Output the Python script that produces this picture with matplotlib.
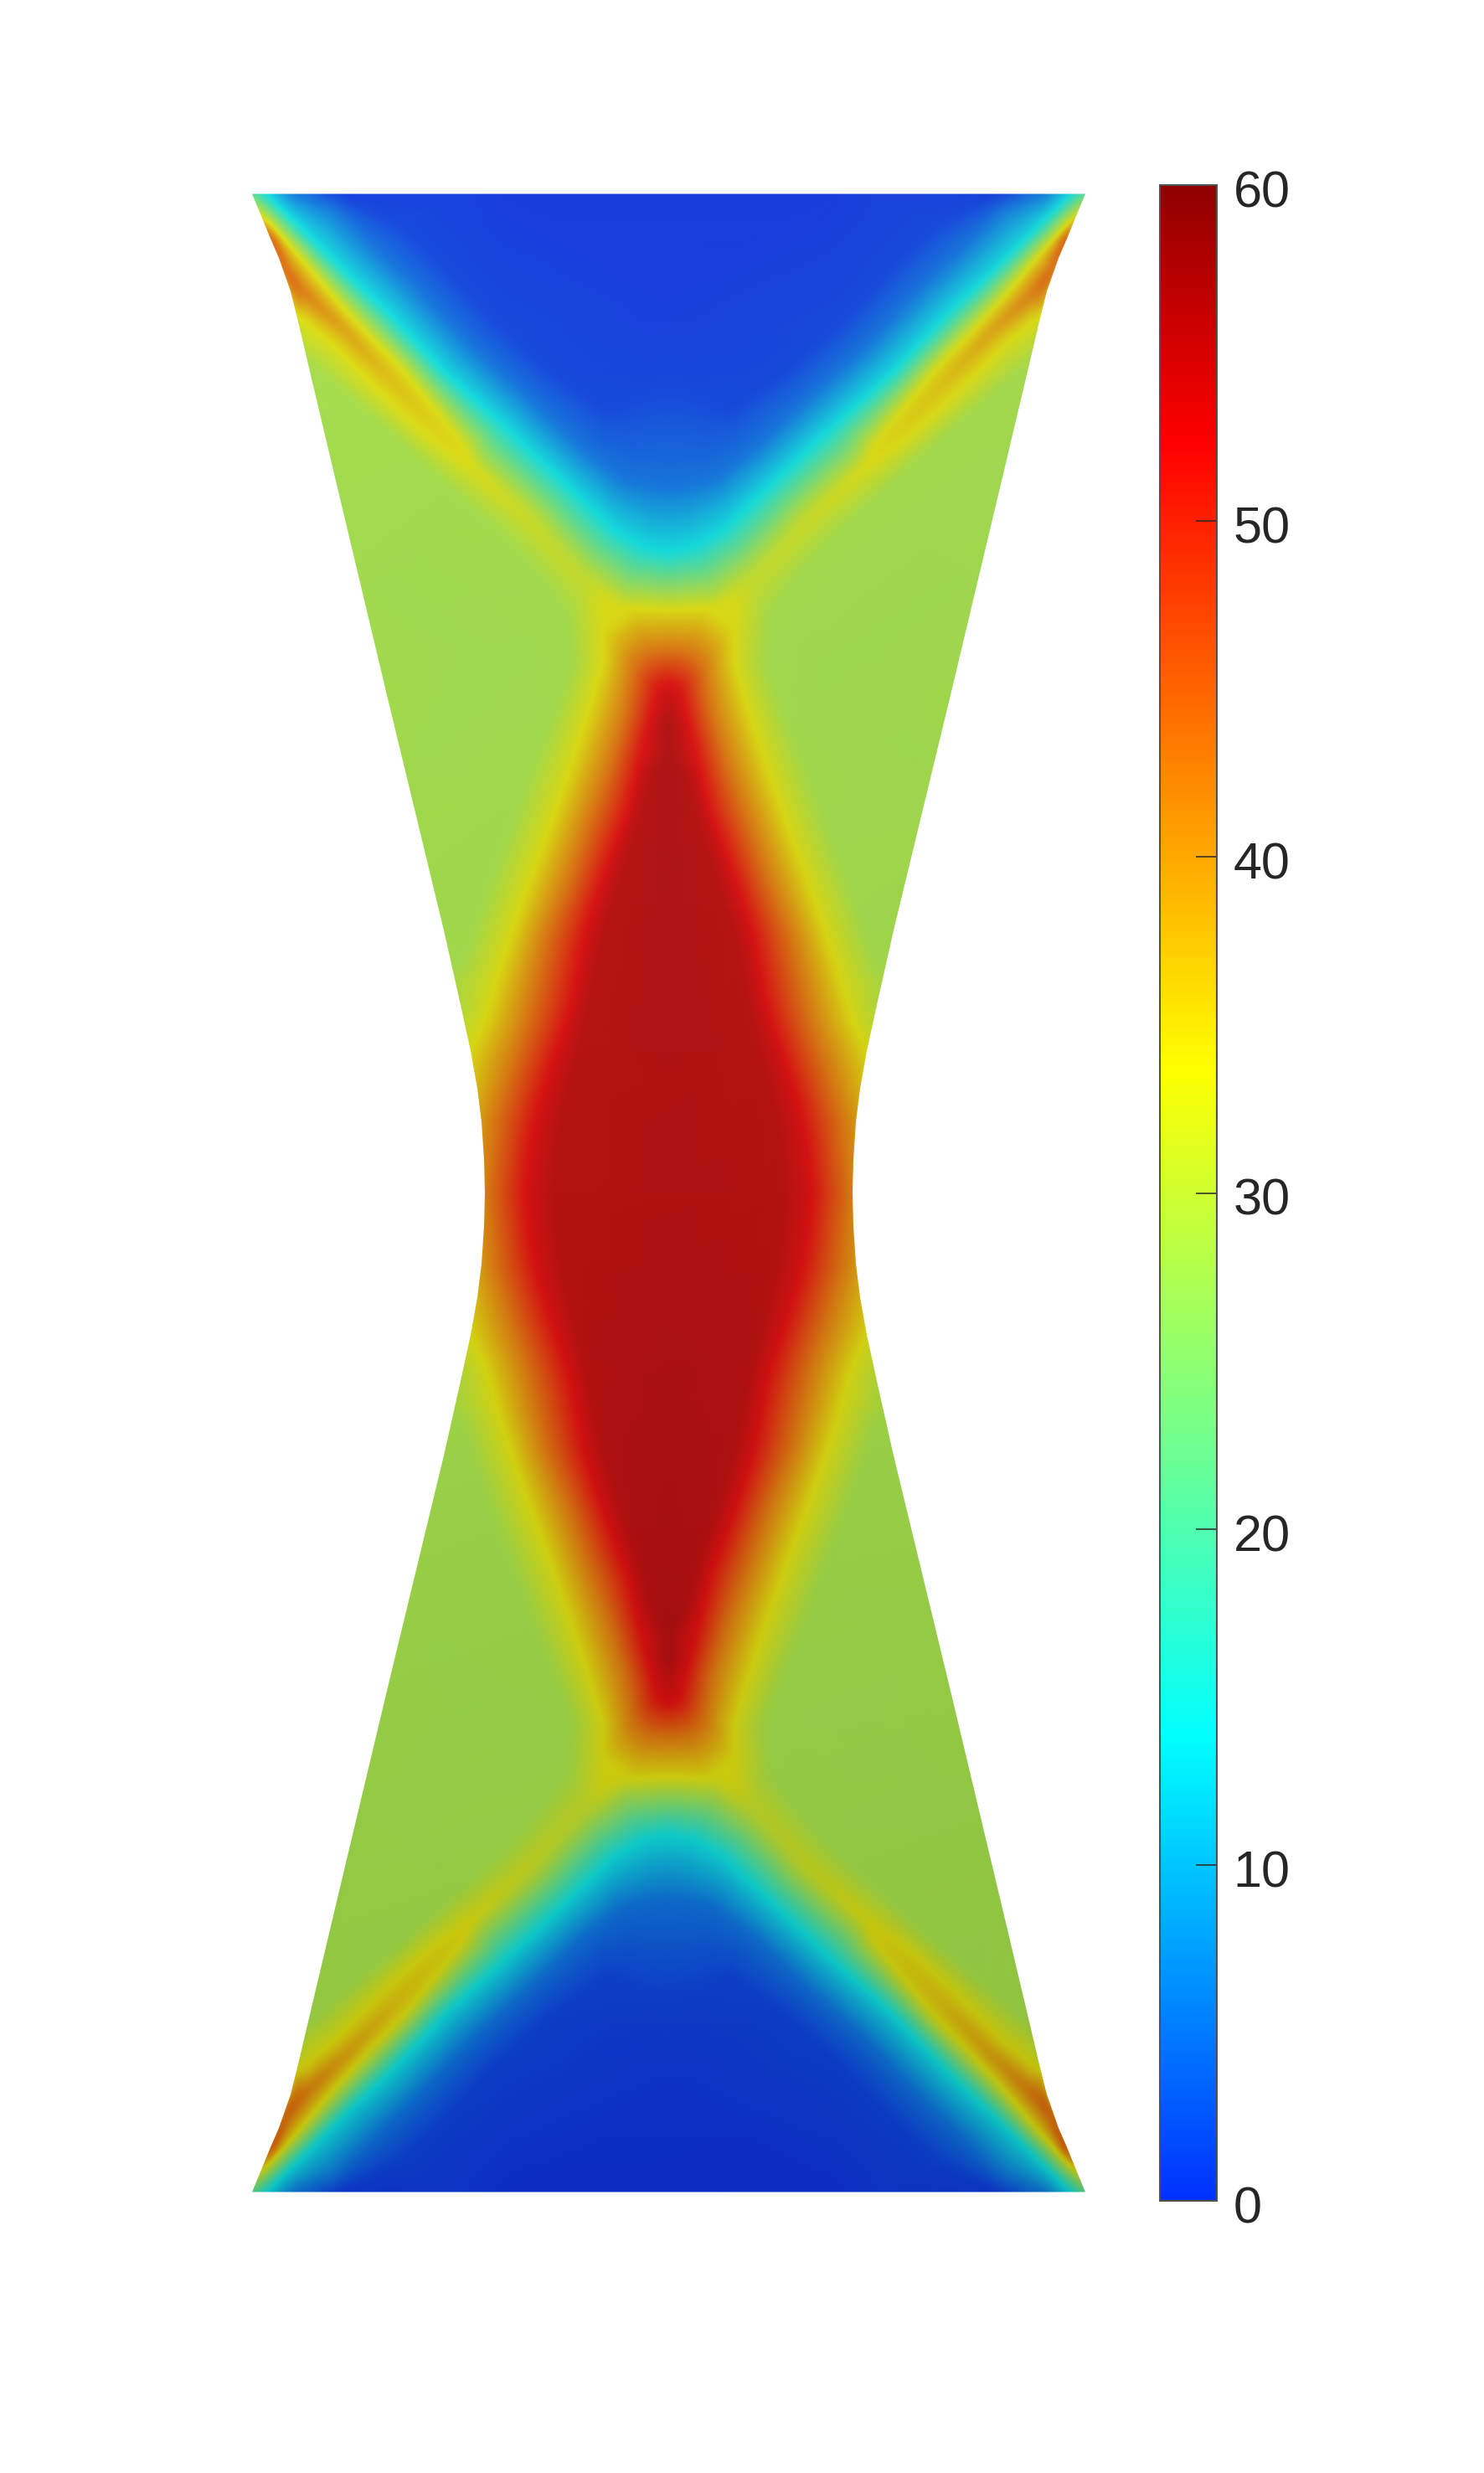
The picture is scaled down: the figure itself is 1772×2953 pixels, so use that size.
# -*- coding: utf-8 -*-
import numpy as np
import matplotlib
matplotlib.use('Agg')
import matplotlib.pyplot as plt
from matplotlib.patches import Polygon
from matplotlib.path import Path
from matplotlib.colors import LinearSegmentedColormap, Normalize
from matplotlib.cm import ScalarMappable
from matplotlib.tri import Triangulation, LinearTriInterpolator
from matplotlib.transforms import ScaledTranslation

# colour bar
vmin, vmax = 0, 60
bar_ticks = [0, 10, 20, 30, 40, 50, 60]
cmap_values = [0, 13.8, 33.7, 52.3, 60]
cmap_colors = [(0, 48, 255), (0, 255, 255), (255, 255, 0), (255, 0, 0), (143, 0, 0)]

# mirror lines of the specimen, pixels of the picture
mid_x = 798.5
mid_y = 1424.5

# left edge of the top left quarter, with the value read along it
edge_x = [301, 312, 323, 333, 347, 357, 368, 400, 462, 530, 550, 562, 570, 575, 578, 579]
edge_y = [231.5, 258, 285, 308, 348, 388, 435, 570, 830, 1111, 1200, 1255, 1300, 1340, 1385, 1424.5]
edge_v = [21, 33.7, 49, 47, 42, 33, 28.5, 28, 28, 28, 29.5, 33.7, 37, 40, 41.5, 42]

# top edge
top_x = [420, 600, 798.5]
top_y = [231.5, 231.5, 231.5]
top_v = [0.2, 0, 0]

# middle column
centre_y = [350, 840, 870, 900, 930, 960, 1000, 1100, 1200, 1300, 1424.5]
centre_v = [0.2, 54.5, 56.5, 56.3, 56.1, 56, 55.9, 55.8, 55.7, 55.6, 55.6]

# lines of one value
v1_x = [395, 476, 522, 592, 659, 726, 762, 798.5]
v1_y = [231.5, 268, 311, 385, 445, 490, 472, 465]
v5_x = [352, 400, 448, 494, 564, 631, 698, 745, 775, 798.5]
v5_y = [231.5, 250, 297, 340, 414, 474, 537, 572, 578, 580]
cyan_x = [317, 367, 417, 463, 533, 600, 667, 733, 767, 798.5]
cyan_y = [231.5, 281, 330, 373, 447, 507, 570, 633, 653, 660]
inner_x = [320, 360, 403, 443, 480, 527, 555]
inner_y = [265, 309, 360, 403, 440, 497, 533]
outer_x = [352, 400, 433, 467, 507, 555]
outer_y = [372, 413, 447, 480, 517, 553]
ridge_x = [720, 720, 703, 680, 657, 637, 617, 597, 580, 560]
ridge_y = [733, 793, 850, 920, 987, 1040, 1097, 1157, 1217, 1260]
roof_x = [720, 760, 798.5]
roof_y = [723, 726, 728]
green_x = [368, 400, 467, 533, 600, 650, 676, 682, 660, 632, 608, 588, 568, 550]
green_y = [435, 463, 520, 580, 642, 695, 735, 793, 850, 920, 987, 1040, 1097, 1150]
orange_x = [798.5, 775, 757, 747, 727, 700, 680, 653, 630, 613, 593, 583]
orange_y = [775, 778, 790, 850, 917, 990, 1050, 1117, 1217, 1267, 1333, 1424.5]
red_x = [798.5, 785, 780, 767, 750, 737, 713, 697, 684, 677, 660, 643, 633, 627]
red_y = [815, 822, 843, 893, 967, 1000, 1067, 1117, 1190, 1217, 1267, 1320, 1367, 1424.5]
core_x = [775, 757, 735, 720, 705, 688, 670, 662]
core_y = [930, 1000, 1067, 1117, 1190, 1267, 1340, 1424.5]

# the two shoulders of the wide yellow band
upper_x = [600, 640, 667, 700]
upper_y = [574, 612, 645, 680]
lower_x = [600, 640, 667, 690]
lower_y = [617, 657, 690, 720]

# crest of the band between the two thin yellow lines, then of the merged band
crest_x = [345, 370, 413, 467, 517, 555, 575, 600, 640, 667, 700]
crest_y = [328, 355, 395, 453, 507, 543, 568, 592, 630, 663, 697]
crest_v = [45, 42.5, 39.5, 36.8, 35, 34, 33.5, 32.8, 32, 31.5, 31.5]

# plain green inside the two side fields
plain_x = [450, 500, 420, 560, 620]
plain_y = [700, 900, 520, 780, 800]
plain_v = [27.8, 27.8, 28, 27.8, 27.8]

# light on the surface, darker towards the bottom
light_y = [231.5, 1424.5, 2617.5]
light_dim = [0.235, 0.24, 0.285]
light_add = [25, 18, 12]

lines = [(edge_x, edge_y, edge_v),
         (v1_x, v1_y, [1.2] * len(v1_x)),
         (v5_x, v5_y, [5] * len(v5_x)),
         (cyan_x, cyan_y, [13.8] * len(cyan_x)),
         (inner_x, inner_y, [33.7] * len(inner_x)),
         (outer_x, outer_y, [33.7] * len(outer_x)),
         (ridge_x, ridge_y, [33.7] * len(ridge_x)),
         (roof_x, roof_y, [33.7] * len(roof_x)),
         (green_x, green_y, [28] * len(green_x)),
         (orange_x, orange_y, [43] * len(orange_x)),
         (red_x, red_y, [52.3] * len(red_x)),
         (core_x, core_y, [55.4] * len(core_x)),
         (upper_x, upper_y, [30] * len(upper_x)),
         (lower_x, lower_y, [30] * len(lower_x)),
         (crest_x, crest_y, crest_v)]
points = [(top_x, top_y, top_v),
          ([mid_x] * len(centre_y), centre_y, centre_v),
          (plain_x, plain_y, plain_v)]

px, py, pv = [], [], []
for x, y, v in lines:
    # the library subdivides each read line so the mesh follows it
    p = Path(np.column_stack([x, y])).interpolated(6).vertices
    w = Path(np.column_stack([v, v])).interpolated(6).vertices[:, 0]
    px.append(p[:, 0])
    py.append(p[:, 1])
    pv.append(w)
for x, y, v in points:
    px.append(np.asarray(x, float))
    py.append(np.asarray(y, float))
    pv.append(np.asarray(v, float))
qx = np.concatenate(px)
qy = np.concatenate(py)
qv = np.concatenate(pv)

# a little margin past the top edge so that the smoothing has values there
on_top = qy == 231.5
qx = np.concatenate([qx, qx[on_top], [281.0]])
qy = np.concatenate([qy, qy[on_top] - 20, [232.0]])
qv = np.concatenate([qv, qv[on_top], [21.0]])

# the four quarters are mirror images
all_x = np.concatenate([qx, 2 * mid_x - qx, qx, 2 * mid_x - qx])
all_y = np.concatenate([qy, qy, 2 * mid_y - qy, 2 * mid_y - qy])
all_v = np.concatenate([qv, qv, qv, qv])
_, keep = np.unique(np.round(np.column_stack([all_x, all_y]), 1), axis=0, return_index=True)
all_x, all_y, all_v = all_x[keep], all_y[keep], all_v[keep]

step = 2
gx, gy = np.meshgrid(np.arange(270, 1330, step), np.arange(205, 2645, step))
interp = LinearTriInterpolator(Triangulation(all_x, all_y), all_v)
field = np.ma.filled(interp(gx, gy), np.nan)
field = np.where(np.isnan(field), 28.0, field)


def box(a, r, axis):
    pad = [(0, 0), (0, 0)]
    pad[axis] = (r + 1, r)
    c = np.cumsum(np.pad(a, pad, mode='edge'), axis=axis)
    return (np.take(c, range(2 * r + 1, c.shape[axis]), axis=axis)
            - np.take(c, range(0, c.shape[axis] - 2 * r - 1), axis=axis)) / (2 * r + 1)


for axis in (0, 1):
    for _ in range(2):
        field = box(field, 2, axis)

cmap = LinearSegmentedColormap.from_list(
    'bar', [((v - vmin) / (vmax - vmin), tuple(c / 255 for c in col))
            for v, col in zip(cmap_values, cmap_colors)], N=1024)
norm = Normalize(vmin, vmax)

rgb = cmap(norm(field))[..., :3]
dim = np.interp(gy, light_y, light_dim) + 0.01 * (gx - mid_x) / 497
add = np.interp(gy, light_y, light_add) / 255
rgb = rgb * (1 - dim[..., None]) + add[..., None]

fig = plt.figure(figsize=(17.72, 29.53), dpi=100, facecolor='white')
ax = fig.add_axes([0, 0, 1, 1])
ax.set_axis_off()

im = ax.imshow(np.clip(rgb, 0, 1), extent=(269, 1329, 2645, 204), interpolation='bilinear', aspect='auto')
ex = np.asarray(edge_x, float)
ey = np.asarray(edge_y, float)
out_x = np.concatenate([ex, ex[::-1], 2 * mid_x - ex, 2 * mid_x - ex[::-1]])
out_y = np.concatenate([ey, 2 * mid_y - ey[::-1], 2 * mid_y - ey, ey[::-1]])
shape = Polygon(np.column_stack([out_x, out_y]), closed=True, transform=ax.transData)
im.set_clip_path(shape)
ax.set_xlim(0, 1772)
ax.set_ylim(2953, 0)

cax = fig.add_axes([1385 / 1772, 1 - 2628 / 2953, 68 / 1772, 2407 / 2953])
cb = fig.colorbar(ScalarMappable(norm=norm, cmap=cmap), cax=cax, ticks=bar_ticks)
cb.outline.set_edgecolor('#505050')
cb.outline.set_linewidth(1.5)
cax.tick_params(axis='y', direction='in', length=18, width=1.1, color='#262626', pad=14,
                labelsize=44, labelcolor='#262626')
down = ScaledTranslation(0, -3.2 / 72, fig.dpi_scale_trans)
for lab in cax.get_yticklabels():
    lab.set_fontfamily('Liberation Sans')
    lab.set_transform(lab.get_transform() + down)

fig.savefig('out.png', dpi=100)
